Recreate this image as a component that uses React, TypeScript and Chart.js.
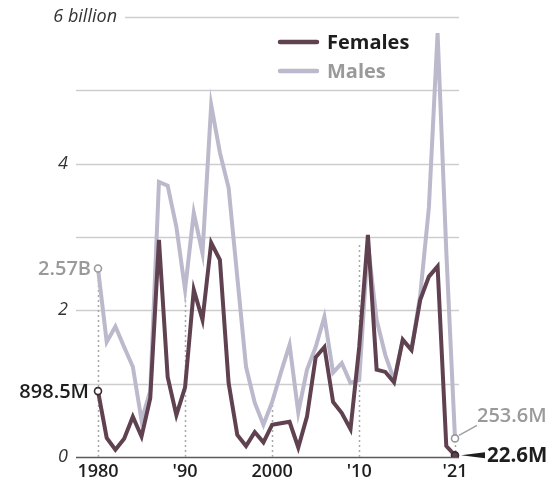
import React, { useEffect, useRef } from "react";
import { Chart, registerables } from "chart.js";

Chart.register(...registerables);

const years = [
  1980, 1981, 1982, 1983, 1984, 1985, 1986, 1987, 1988, 1989,
  1990, 1991, 1992, 1993, 1994, 1995, 1996, 1997, 1998, 1999,
  2000, 2001, 2002, 2003, 2004, 2005, 2006, 2007, 2008, 2009,
  2010, 2011, 2012, 2013, 2014, 2015, 2016, 2017, 2018, 2019,
  2020, 2021,
];

// values in billions
const females = [
  0.8985, 0.26, 0.1, 0.25, 0.55, 0.28, 0.8, 2.96, 1.09, 0.57,
  0.95, 2.28, 1.87, 2.92, 2.69, 1.01, 0.3, 0.15, 0.34, 0.2,
  0.44, 0.46, 0.48, 0.13, 0.55, 1.36, 1.5, 0.75, 0.6, 0.38,
  1.5, 3.03, 1.19, 1.16, 1.02, 1.6, 1.46, 2.14, 2.46, 2.6,
  0.15, 0.0226,
];

const males = [
  2.57, 1.57, 1.78, 1.5, 1.23, 0.5, 0.9, 3.75, 3.7, 3.14,
  2.28, 3.33, 2.78, 4.8, 4.15, 3.67, 2.45, 1.23, 0.74, 0.44,
  0.75, 1.15, 1.53, 0.61, 1.19, 1.5, 1.91, 1.15, 1.28, 1.01,
  1.05, 2.9, 1.87, 1.39, 1.05, 1.6, 1.46, 2.2, 3.4, 5.78,
  2.8, 0.2536,
];

const gridValues = [0, 1, 2, 3, 4, 5, 6];
const yTickValues = [0, 2, 4, 6];
const yTickLabels = ["0", "2", "4", "6 billion"];
const xTickYears = [1980, 1990, 2000, 2010, 2021];
const xTickLabels = ["1980", "'90", "2000", "'10", "'21"];
const guideYears = [1980, 1990, 2000, 2010, 2021];
const guideTops = [2.57, 2.28, 0.75, 2.9, 0.2536];

const seriesNames = ["Females", "Males"];
const endLabels = {
  femaleStart: "898.5M",
  maleStart: "2.57B",
  femaleEnd: "22.6M",
  maleEnd: "253.6M",
};

const FEMALE = "#5f4150";
const MALE = "#bbb9cb";
const DARK_TEXT = "#1e1e1e";
const GRAY_TEXT = "#9a9a9a";
const FONT = "'Open Sans', 'Noto Sans', sans-serif";

const decorPlugin = {
  id: "decor",
  beforeDatasetsDraw(chart: any) {
    const { ctx, chartArea } = chart;
    const x = chart.scales.x;
    const y = chart.scales.y;
    ctx.save();
    gridValues.forEach((v) => {
      const py = Math.round(y.getPixelForValue(v)) + 0.5;
      const x0 = v === 6 ? chartArea.left + 27 : chartArea.left - 22;
      const x1 = chartArea.right + 4;
      ctx.beginPath();
      ctx.strokeStyle = v === 0 ? "#5a5a5a" : "#cdcdcd";
      ctx.lineWidth = v === 0 ? 1.6 : 1.3;
      ctx.moveTo(x0, py);
      ctx.lineTo(x1, py);
      ctx.stroke();
    });
    ctx.fillStyle = "#333";
    ctx.textBaseline = "middle";
    ctx.textAlign = "right";
    yTickValues.forEach((v, i) => {
      const py = y.getPixelForValue(v);
      ctx.font = `italic 400 18px ${FONT}`;
      const rx = v === 6 ? chartArea.left + 19 : chartArea.left - 30;
      ctx.fillText(yTickLabels[i], rx, py);
    });
    ctx.setLineDash([2, 3]);
    ctx.strokeStyle = "#a8a8a8";
    ctx.lineWidth = 1.5;
    guideYears.forEach((yr, i) => {
      const idx = years.indexOf(yr);
      const px = Math.round(x.getPixelForValue(idx)) + 0.5;
      ctx.beginPath();
      ctx.moveTo(px, y.getPixelForValue(0));
      ctx.lineTo(px, y.getPixelForValue(guideTops[i]));
      ctx.stroke();
    });
    ctx.setLineDash([]);
    ctx.restore();
  },
  afterDatasetsDraw(chart: any) {
    const { ctx, chartArea } = chart;
    const x = chart.scales.x;
    const y = chart.scales.y;
    const last = years.length - 1;
    ctx.save();
    ctx.textBaseline = "middle";
    const x0 = x.getPixelForValue(0);
    ctx.font = `600 20px ${FONT}`;
    ctx.textAlign = "right";
    ctx.fillStyle = GRAY_TEXT;
    ctx.fillText(endLabels.maleStart, x0 - 7, y.getPixelForValue(males[0]) + 1);
    ctx.fillStyle = DARK_TEXT;
    ctx.fillText(endLabels.femaleStart, x0 - 9, y.getPixelForValue(females[0]) + 1);
    const xe = x.getPixelForValue(last);
    const yf = y.getPixelForValue(females[last]);
    const ym = y.getPixelForValue(males[last]);
    ctx.textAlign = "left";
    ctx.strokeStyle = "#a0a0a0";
    ctx.lineWidth = 1.5;
    ctx.beginPath();
    ctx.moveTo(xe + 4, ym - 3);
    ctx.lineTo(xe + 22, ym - 13);
    ctx.stroke();
    ctx.fillStyle = GRAY_TEXT;
    ctx.fillText(endLabels.maleEnd, xe + 22, ym - 22);
    ctx.fillStyle = DARK_TEXT;
    ctx.beginPath();
    ctx.moveTo(xe + 6, yf);
    ctx.lineTo(xe + 30, yf - 3);
    ctx.lineTo(xe + 30, yf + 3);
    ctx.closePath();
    ctx.fill();
    ctx.font = `700 20.5px ${FONT}`;
    ctx.fillText(endLabels.femaleEnd, xe + 32, yf + 1);
    const lx = chartArea.left + 182;
    const ly1 = chartArea.top + 25;
    const ly2 = chartArea.top + 54;
    ctx.lineWidth = 4.5;
    ctx.lineCap = "round";
    ctx.strokeStyle = FEMALE;
    ctx.beginPath();
    ctx.moveTo(lx, ly1);
    ctx.lineTo(lx + 37, ly1);
    ctx.stroke();
    ctx.strokeStyle = MALE;
    ctx.beginPath();
    ctx.moveTo(lx, ly2);
    ctx.lineTo(lx + 37, ly2);
    ctx.stroke();
    ctx.font = `700 20px ${FONT}`;
    ctx.fillStyle = DARK_TEXT;
    ctx.fillText(seriesNames[0], lx + 47, ly1 + 1);
    ctx.fillStyle = GRAY_TEXT;
    ctx.fillText(seriesNames[1], lx + 47, ly2 + 1);
    ctx.restore();
  },
};

export default function App() {
  const ref = useRef<HTMLCanvasElement | null>(null);
  useEffect(() => {
    if (!ref.current) return;
    const last = years.length - 1;
    const chart = new Chart(ref.current, {
      type: "line",
      data: {
        labels: years.map(String),
        datasets: [
          {
            label: seriesNames[0],
            data: females,
            borderColor: FEMALE,
            borderWidth: 4,
            tension: 0,
            pointRadius: (c: any) => (c.dataIndex === 0 || c.dataIndex === last ? 3.5 : 0),
            pointBackgroundColor: (c: any) => (c.dataIndex === last ? FEMALE : "#ffffff"),
            pointBorderColor: "#3a2a32",
            pointBorderWidth: 1.6,
          },
          {
            label: seriesNames[1],
            data: males,
            borderColor: MALE,
            borderWidth: 4,
            tension: 0,
            pointRadius: (c: any) => (c.dataIndex === 0 || c.dataIndex === last ? 3.5 : 0),
            pointBackgroundColor: "#ffffff",
            pointBorderColor: "#9a9a9a",
            pointBorderWidth: 1.6,
          },
        ],
      },
      options: {
        responsive: false,
        animation: false,
        layout: { padding: { left: 98, right: 98, top: 17, bottom: 0 } },
        plugins: { legend: { display: false }, tooltip: { enabled: false } },
        scales: {
          x: {
            type: "category",
            offset: false,
            grid: { display: false, drawTicks: false },
            border: { display: false },
            afterFit: (s: any) => {
              s.height = 32;
            },
            ticks: {
              autoSkip: false,
              maxRotation: 0,
              padding: 4,
              color: DARK_TEXT,
              font: { family: FONT, size: 18, weight: "600" },
              callback: (_v: any, i: number) => {
                const k = xTickYears.indexOf(years[i]);
                return k >= 0 ? xTickLabels[k] : "";
              },
            },
          },
          y: {
            display: false,
            min: 0,
            max: 6,
          },
        },
      },
      plugins: [decorPlugin],
    });
    return () => chart.destroy();
  }, []);
  return (
    <div style={{ position: "absolute", left: 0, top: 0, width: 553, height: 489, background: "#fff" }}>
      <canvas ref={ref} width={553} height={489} style={{ width: 553, height: 489, display: "block" }} />
    </div>
  );
}
